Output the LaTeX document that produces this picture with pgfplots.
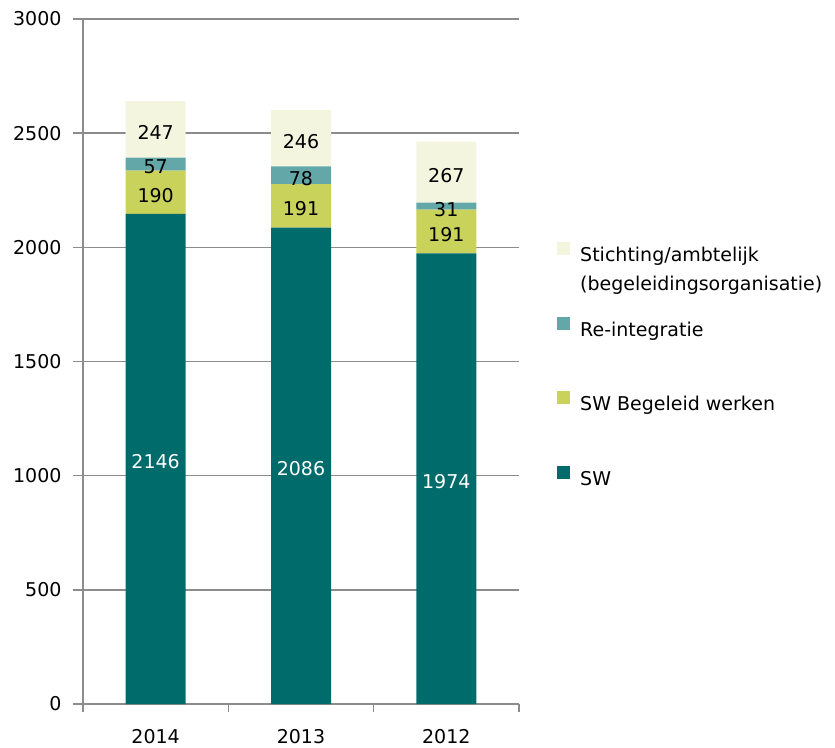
\documentclass[border=0pt]{standalone}
\usepackage{pgfplots}
\pgfplotsset{compat=1.18}
\usepackage{pgfplotstable}
\usepackage{fontspec}
\setmainfont{DejaVu Sans}
\definecolor{cSW}{HTML}{006B6B}
\definecolor{cBW}{HTML}{C9D25A}
\definecolor{cRI}{HTML}{64A7A8}
\definecolor{cST}{HTML}{F3F5DF}
\definecolor{cGrid}{HTML}{8C8C8C}
\pgfplotstableread{
x sw bw ri st
0 2146 190 57 247
1 2086 191 78 246
2 1974 191 31 267
}\datatable
\begin{document}
\begin{tikzpicture}[font=\fontsize{19}{29}\selectfont]
\path[use as bounding box] (0,0) rectangle (835pt,747pt);
\begin{axis}[
  at={(83pt,43pt)}, anchor=south west,
  scale only axis, width=436pt, height=685pt,
  ybar stacked, bar width=60pt,
  xmin=-0.5, xmax=2.5, ymin=0, ymax=3000,
  xtick={0,1,2}, xticklabels={2014,2013,2012},
  minor xtick={-0.5,0.5,1.5,2.5},
  major x tick style={draw=none},
  ytick={0,500,1000,1500,2000,2500,3000},
  tick align=outside,
  major tick length=10pt, minor tick length=8pt,
  axis x line*=bottom, axis y line*=left,
  axis line style={draw=cGrid, line width=1.6pt},
  ymajorgrids, grid style={cGrid, line width=1.5pt},
  tick style={cGrid, line width=1.5pt},
  yticklabel style={xshift=-8pt},
  xticklabel style={yshift=-12pt},
  /pgf/number format/1000 sep={},
  /pgf/number format/assume math mode=true,
  legend style={at={(1.0872,0.6745)}, anchor=north west, draw=none, fill=none,
    inner sep=0pt, row sep=50pt, column sep=10pt,
    nodes={text height=14pt, text depth=5pt, inner sep=0pt}},
  legend cell align=left,
  reverse legend,
  legend image code/.code={\draw[#1,draw=none] (0pt,2pt) rectangle (13pt,15pt);},
  nodes near coords,
  point meta=explicit,
  nodes near coords style={anchor=center, yshift=-3pt},
]
\addplot[fill=cSW, draw=none, nodes near coords style={white}]
  table[x=x, y=sw, meta=sw] {\datatable};
\addlegendentry{SW}
\addplot[fill=cBW, draw=none, nodes near coords style={black}]
  table[x=x, y=bw, meta=bw] {\datatable};
\addlegendentry{SW Begeleid werken}
\addplot[fill=cRI, draw=none, nodes near coords style={black}]
  table[x=x, y=ri, meta=ri] {\datatable};
\addlegendentry{Re-integratie}
\addplot[fill=cST, draw=none, nodes near coords style={black}]
  table[x=x, y=st, meta=st] {\datatable};
\addlegendentry{\smash{\vtop{\baselineskip=29pt\hbox{Stichting/ambtelijk}\hbox{(begeleidingsorganisatie)}}}}
\end{axis}
\end{tikzpicture}
\end{document}
